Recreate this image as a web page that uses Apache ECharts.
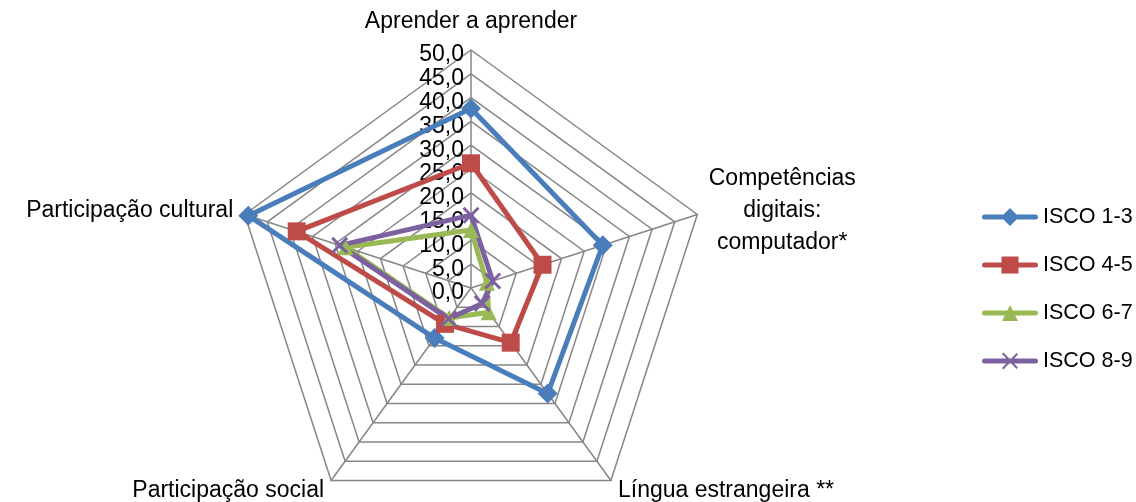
<!DOCTYPE html>
<html>
<head>
<meta charset="utf-8">
<script src="https://cdn.jsdelivr.net/npm/echarts@6/dist/echarts.min.js"></script>
<style>
  html, body { margin: 0; padding: 0; background: #ffffff; }
  #chart { width: 1136px; height: 502px; }
</style>
</head>
<body>
<div id="chart"></div>
<script>
// Indicators in ECharts (counter-clockwise from top) order
const categories = ['Aprender a aprender', 'Participação cultural', 'Participação social', 'Língua estrangeira **', 'Competências\ndigitais:\ncomputador*'];
const seriesNames = ['ISCO 1-3', 'ISCO 4-5', 'ISCO 6-7', 'ISCO 8-9'];
const isco13 = [37.7, 49.2, 13.0, 27.4, 29.1];
const isco45 = [26.2, 38.5, 9.3, 14.2, 15.8];
const isco67 = [12.2, 27.7, 7.8, 6.3, 3.5];
const isco89 = [15.3, 29.0, 8.0, 4.0, 4.8];
const axisMax = 50;

const FONT = 'Liberation Sans';
const colors = ['#4A7EBB', '#BE4B48', '#98B954', '#7D60A0'];
const xPath = 'path://M0,1.2 L1.2,0 L10,8.8 L8.8,10 Z M8.8,0 L10,1.2 L1.2,10 L0,8.8 Z';
const symbols = ['diamond', 'rect', 'triangle', xPath];
const symbolSizes = [20, 18, 16, 17];
const bar = 'M2.5,6.5 L53.5,6.5 A2.5,2.5 0 0 1 53.5,11.5 L2.5,11.5 A2.5,2.5 0 0 1 2.5,6.5 Z ';
const legendIcons = [
  'path://' + bar + 'M28,0 L37,9 L28,18 L19,9 Z',
  'path://' + bar + 'M19.5,0.5 L36.5,0.5 L36.5,17.5 L19.5,17.5 Z',
  'path://' + bar + 'M28,1 L36,17 L20,17 Z',
  'path://' + bar + 'M20,2 L21.4,0.6 L36,15.6 L34.6,17 Z M34.6,1 L36,2.4 L21.4,17.4 L20,16 Z'
];
const values = [isco13, isco45, isco67, isco89];

const chart = echarts.init(document.getElementById('chart'), null, { renderer: 'canvas' });

const indicator = categories.map((name, i) => {
  const ind = { name: name, max: axisMax, min: 0 };
  if (i === 0) {
    ind.axisLabel = {
      show: true,
      fontFamily: FONT,
      fontSize: 23,
      color: '#000',
      margin: 7,
      verticalAlign: 'top',
      lineHeight: 10,
      formatter: v => v.toFixed(1).replace('.', ',')
    };
  }
  return ind;
});

chart.setOption({
  backgroundColor: '#ffffff',
  animation: false,
  textStyle: { fontFamily: FONT },
  legend: {
    orient: 'vertical',
    left: 977,
    top: 201,
    itemWidth: 56,
    itemHeight: 18,
    itemGap: 26,
    textStyle: { fontFamily: FONT, fontSize: 21.5, lineHeight: 22, color: '#000' },
    data: seriesNames.map((n, i) => ({ name: n, icon: legendIcons[i], itemStyle: { color: colors[i] } }))
  },
  radar: {
    center: [471, 288],
    radius: 238,
    shape: 'polygon',
    splitNumber: 10,
    indicator: indicator,
    nameGap: 12,
    axisName: {
      color: '#000',
      fontFamily: FONT,
      fontSize: 23,
      formatter: name => name.split('\n').map(s => '{c|' + s + '}').join('\n'),
      rich: { c: { align: 'center', fontFamily: FONT, fontSize: 23, color: '#000', lineHeight: 32 } }
    },
    axisLine: { lineStyle: { color: '#868686', width: 1.5 } },
    splitLine: { lineStyle: { color: '#868686', width: 1.5 } },
    splitArea: { show: false },
    axisTick: { show: false },
    axisLabel: { show: false }
  },
  series: [{
    type: 'radar',
    data: values.map((v, i) => ({
      name: seriesNames[i],
      value: v,
      symbol: symbols[i],
      symbolSize: symbolSizes[i],
      lineStyle: { color: colors[i], width: 5 },
      itemStyle: { color: colors[i] }
    }))
  }]
});
</script>
</body>
</html>
